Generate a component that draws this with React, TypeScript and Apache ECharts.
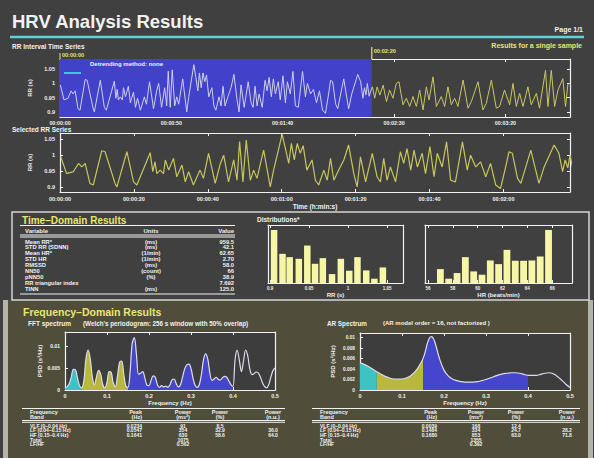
import React, { useEffect, useRef } from "react";
import * as echarts from "echarts";

// ---------- RR interval series (time s, RR s) ----------
const rrTime = [
  0.2, 1.8, 3.6, 5.0, 5.9, 6.8, 8.1, 9.0, 11.3, 12.2, 14.9, 15.4, 18.1, 19.9, 20.8, 24.4, 25.1, 25.7, 26.2, 27.1,
  28.0, 28.5, 29.4, 30.7, 31.6, 33.0, 33.9, 34.8, 36.1, 37.9, 38.8, 40.2, 42.0, 43.4, 44.3, 45.6, 47.0, 47.9, 48.6, 49.5,
  50.4, 51.5, 52.4, 53.3, 55.1, 56.9, 57.8, 60.1, 61.0, 61.9, 62.6, 63.4, 64.2, 65.0, 65.8, 66.8, 68.2, 69.1, 70.0, 71.4,
  72.3, 73.2, 74.1, 75.4, 76.8, 78.1, 79.5, 80.4, 81.3, 82.7, 84.5, 85.8, 86.7, 87.6, 88.5, 89.4, 90.8, 92.1, 93.0, 93.9,
  94.9, 95.8, 96.7, 98.0, 98.9, 100.1, 101.2, 102.1, 103.4, 104.6, 105.7, 107.0, 108.9, 110.2, 111.1, 112.5, 113.8, 115.2, 116.5, 117.9,
  119.2, 120.6, 121.5, 122.4, 123.8, 124.7, 127.4, 129.6, 131.0, 133.7, 135.0, 136.0, 136.7, 137.4, 138.0, 138.8, 139.6,
  140.3, 141.3, 142.4, 143.6, 145.1, 146.6, 148.0, 149.5, 151.0, 152.2, 154.0, 155.5, 157.0, 158.5, 160.0, 161.5, 163.0, 164.5, 165.7, 167.5,
  169.0, 171.2, 172.7, 174.2, 175.7, 177.2, 178.7, 181.0, 183.2, 184.7, 187.7, 189.9, 191.4, 193.7, 195.9, 197.4, 199.6, 201.9, 203.4, 204.9,
  206.4, 207.9, 210.1, 211.6, 213.9, 215.3, 218.0, 219.1, 220.6, 222.1, 223.6, 225.8, 227.0, 228.1,
];
const rrValue = [
  0.995, 0.942, 0.948, 0.974, 0.963, 0.974, 0.911, 0.906, 1.014, 1.011, 0.911, 0.900, 1.011, 0.916, 0.906, 1.008, 0.948, 0.979, 0.942, 0.953,
  0.942, 0.985, 0.953, 0.990, 0.932, 0.969, 0.916, 0.948, 0.906, 0.953, 0.927, 1.006, 0.911, 0.974, 1.000, 0.916, 0.985, 0.921, 1.043, 0.916,
  1.048, 0.921, 0.953, 0.927, 1.016, 0.900, 0.953, 1.066, 1.021, 0.974, 1.037, 0.985, 1.037, 1.006, 1.030, 0.953, 0.985, 0.921, 0.906, 0.953,
  0.921, 0.990, 0.921, 0.953, 0.985, 1.032, 0.942, 0.900, 0.995, 0.916, 1.006, 0.932, 0.916, 0.990, 0.921, 0.963, 0.916, 1.011, 0.974, 1.021,
  0.953, 1.016, 0.963, 1.006, 0.942, 1.027, 0.932, 1.006, 0.963, 1.042, 0.921, 0.916, 1.042, 0.953, 1.000, 0.963, 0.979, 0.932, 0.974, 0.906,
  0.895, 0.963, 1.011, 1.006, 0.927, 0.911, 1.016, 0.911, 0.963, 1.032, 1.006, 0.948, 0.985, 0.960, 1.000, 0.955, 0.975,
  0.988, 0.948, 0.988, 0.959, 0.994, 0.936, 0.977, 0.948, 1.000, 1.006, 0.925, 0.948, 0.919, 0.954, 0.919, 0.977, 0.907, 0.988, 0.942, 1.023,
  0.919, 0.954, 0.919, 0.988, 0.925, 0.948, 0.919, 1.012, 0.913, 0.936, 1.006, 0.907, 0.930, 1.012, 0.913, 0.919, 0.977, 0.925, 1.000, 0.919,
  0.965, 0.919, 0.988, 0.925, 0.965, 0.913, 1.046, 0.919, 1.046, 0.919, 0.977, 1.017, 0.919, 1.000,
];
const selectionStart = 0;
const selectionEnd = 140;
const overviewXRange = [0, 229];
const overviewYRange = [0.882, 1.086];
const selectedXRange = [0, 138];
const selectedYRange = [0.884, 1.07];
const overviewTimeTicks = [0, 50, 100, 150, 200];
const selectedTimeTicks = [0, 20, 40, 60, 80, 100, 120];
const rrTicks = [0.9, 0.95, 1, 1.05];

// ---------- Distributions ----------
const rrHistCenters = [0.9052, 0.916, 0.9252, 0.9369, 0.9478, 0.9577, 0.9677, 0.9795, 0.9908, 1.0016, 1.0121, 1.0234, 1.0338, 1.0447];
const rrHistCounts = [160, 88, 78, 73, 113, 58, 75, 27, 73, 37, 78, 38, 13, 47];
const hrHistCenters = [57.0, 57.67, 58.34, 59.01, 59.68, 60.35, 61.02, 61.69, 62.36, 63.03, 63.7, 64.37, 65.04, 65.71];
const hrHistCounts = [42, 13, 30, 78, 35, 25, 68, 57, 100, 67, 67, 68, 80, 160];
const rrHistRange = [0.8974, 1.0705];
const hrHistRange = [55.76, 67.6];
const histCountMax = 175;
const rrHistTicks = [0.9, 0.95, 1, 1.05];
const hrHistTicks = [56, 58, 60, 62, 64, 66];

// ---------- Spectra ----------
const fftFreq = [
  0, 0.005, 0.01, 0.015, 0.02, 0.025, 0.03, 0.035, 0.04, 0.045, 0.05, 0.055, 0.06, 0.065, 0.07, 0.075, 0.08, 0.085, 0.09, 0.095,
  0.1, 0.105, 0.11, 0.115, 0.12, 0.125, 0.13, 0.135, 0.14, 0.145, 0.15, 0.155, 0.16, 0.165, 0.17, 0.175, 0.18, 0.185, 0.19, 0.195,
  0.2, 0.205, 0.21, 0.215, 0.22, 0.225, 0.23, 0.235, 0.24, 0.245, 0.25, 0.255, 0.26, 0.265, 0.27, 0.275, 0.28, 0.285, 0.29, 0.295,
  0.3, 0.305, 0.31, 0.315, 0.32, 0.325, 0.33, 0.335, 0.34, 0.345, 0.35, 0.355, 0.36, 0.365, 0.37, 0.375, 0.38, 0.385, 0.39, 0.395,
  0.4, 0.405, 0.41, 0.415, 0.42, 0.425, 0.43, 0.435, 0.44, 0.445, 0.45, 0.455, 0.46, 0.465, 0.47, 0.475, 0.48, 0.485, 0.49, 0.495, 0.5,
];
const fftPsd = [
  0.0005, 0.0007, 0.0014, 0.003, 0.0047, 0.0046, 0.0026, 0.0009, 0.0005, 0.0022, 0.0072, 0.0091, 0.0072, 0.003, 0.0012, 0.003, 0.0045, 0.0036, 0.0012, 0.0005,
  0.0018, 0.0042, 0.004, 0.0016, 0.0008, 0.0032, 0.0063, 0.0066, 0.0035, 0.0009, 0.0006, 0.0042, 0.0106, 0.0119, 0.0082, 0.0036, 0.0038, 0.0042, 0.0028, 0.0011,
  0.001, 0.0022, 0.0032, 0.0029, 0.0012, 0.0006, 0.001, 0.0007, 0.0009, 0.0006, 0.0012, 0.0023, 0.0025, 0.0014, 0.0007, 0.0012, 0.003, 0.0048, 0.0057, 0.0059,
  0.0049, 0.0026, 0.001, 0.0006, 0.0013, 0.0037, 0.007, 0.0082, 0.007, 0.0038, 0.0022, 0.0025, 0.0029, 0.0024, 0.0023, 0.0028, 0.0031, 0.0029, 0.0021, 0.0012,
  0.0008, 0.007, 0.009, 0.0068, 0.0042, 0.0066, 0.0091, 0.0078, 0.0048, 0.0035, 0.0037, 0.0041, 0.0039, 0.003, 0.0017, 0.0008, 0.0005, 0.0012, 0.0029, 0.0044, 0.005,
];
const arFreq = [
  0, 0.01, 0.02, 0.03, 0.04, 0.05, 0.06, 0.07, 0.08, 0.09, 0.1, 0.11, 0.12, 0.13, 0.14, 0.15, 0.155, 0.16, 0.165, 0.17, 0.175, 0.18, 0.19,
  0.2, 0.21, 0.22, 0.23, 0.24, 0.25, 0.26, 0.27, 0.28, 0.29, 0.3, 0.31, 0.32, 0.33, 0.34, 0.35, 0.36, 0.37, 0.38, 0.39,
  0.4, 0.41, 0.42, 0.43, 0.44, 0.45, 0.46, 0.47, 0.48, 0.49, 0.5,
];
const arPsd = [
  0.0052, 0.0049, 0.0045, 0.004, 0.0035, 0.003, 0.0026, 0.0023, 0.0021, 0.0021, 0.0021, 0.0023, 0.0027, 0.0034, 0.0045, 0.006, 0.0072, 0.0088, 0.0099, 0.0102, 0.0098, 0.0087, 0.0058,
  0.0038, 0.0027, 0.0021, 0.0018, 0.0016, 0.0015, 0.0015, 0.0015, 0.0016, 0.0018, 0.002, 0.0023, 0.0026, 0.0029, 0.0031, 0.0032, 0.0033, 0.0033, 0.0032, 0.003,
  0.0028, 0.0028, 0.0028, 0.003, 0.0032, 0.0033, 0.0031, 0.0026, 0.0019, 0.0011, 0.0005,
];
const bandEdges = [0, 0.04, 0.15, 0.4];
const bandColors = ["#3cc4c4", "#b8b83e", "#4646cc"];
const freqRange = [0, 0.5];
const freqTicks = [0, 0.1, 0.2, 0.3, 0.4, 0.5];
const fftPsdRange = [0, 0.0132];
const fftPsdTicks = [0, 0.005, 0.01];
const arPsdRange = [0, 0.0109];
const arPsdTicks = [0, 0.002, 0.004, 0.006, 0.008, 0.01];

// ---------- Tables ----------
const tdVariables = ["Mean RR*", "STD RR (SDNN)", "Mean HR*", "STD HR", "RMSSD", "NN50", "pNN50", "RR triangular index", "TINN"];
const tdUnits = ["(ms)", "(ms)", "(1/min)", "(1/min)", "(ms)", "(count)", "(%)", "", "(ms)"];
const tdValues = ["959.5", "42.1", "62.65", "2.70", "58.0", "66", "38.9", "7.692", "125.0"];
const bandNames = ["VLF (0–0.04 Hz)", "LF (0.04–0.15 Hz)", "HF (0.15–0.4 Hz)", "Total", "LF/HF"];
const fftPeak = ["0.0234", "0.0547", "0.1641", "", ""];
const fftPower = ["91", "354", "630", "1075", "0.562"];
const fftPercent = ["8.5", "32.9", "58.6", "", ""];
const fftNu = ["", "36.0", "64.0", "", ""];
const arPeak = ["0.0039", "0.1484", "0.1680", "", ""];
const arPower = ["168", "334", "853", "1355", "0.392"];
const arPercent = ["12.4", "24.7", "63.0", "", ""];
const arNu = ["", "28.2", "71.8", "", ""];

// ---------- styling helpers ----------
const FONT = "'Liberation Sans', Arial, sans-serif";
const WHITE = "#f2f2f2";
const YELLOW = "#e6e670";

function hms(v: number) {
  const s = Math.round(v);
  const h = Math.floor(s / 3600);
  const m = Math.floor((s % 3600) / 60);
  const ss = s % 60;
  return [h, m, ss].map((n) => String(n).padStart(2, "0")).join(":");
}

function lab(size: number, color = WHITE) {
  return { color, fontSize: size, fontWeight: "bold" as const, fontFamily: FONT };
}

function addCartesian(xAxes: any[], yAxes: any[], g: number, x: any, y: any) {
  const line = { show: true, onZero: false, lineStyle: { color: WHITE, width: 1.2 } };
  const tick = (vals: number[]) => ({
    show: vals.length > 0, inside: true, length: 3, customValues: vals, lineStyle: { color: WHITE, width: 1 },
  });
  xAxes.push({
    type: "value", gridIndex: g, position: "bottom", min: x.range[0], max: x.range[1],
    axisLine: line, axisTick: tick(x.ticks), splitLine: { show: false },
    axisLabel: { show: true, customValues: x.ticks, formatter: x.fmt, margin: x.margin ?? 4, ...lab(x.size ?? 5.5) },
    name: x.name ?? "", nameLocation: "middle", nameGap: x.nameGap ?? 10, nameTextStyle: lab(x.nameSize ?? 6),
  });
  xAxes.push({
    type: "value", gridIndex: g, position: "top", min: x.range[0], max: x.range[1],
    axisLine: line, axisTick: tick(x.topTicks ?? x.ticks), splitLine: { show: false }, axisLabel: { show: false },
  });
  yAxes.push({
    type: "value", gridIndex: g, position: "left", min: y.range[0], max: y.range[1],
    axisLine: line, axisTick: tick(y.ticks), splitLine: { show: false },
    axisLabel: { show: y.ticks.length > 0, customValues: y.ticks, formatter: y.fmt, margin: y.margin ?? 5, ...lab(y.size ?? 5.5) },
    name: y.name ?? "", nameLocation: "middle", nameRotate: 90, nameGap: y.nameGap ?? 20, nameTextStyle: lab(y.nameSize ?? 6),
  });
  yAxes.push({
    type: "value", gridIndex: g, position: "right", min: y.range[0], max: y.range[1],
    axisLine: line, axisTick: tick(y.rightTicks ?? []), splitLine: { show: false }, axisLabel: { show: false },
  });
}

function buildOption() {
  const rrPairs = rrTime.map((t, i) => [t, rrValue[i]]);
  const split = rrTime.findIndex((t) => t > selectionEnd);
  const selPart = rrPairs.slice(0, split + 1);
  const restPart = rrPairs.slice(split);
  const fftPairs = fftFreq.map((f, i) => [f, fftPsd[i]]);
  const arPairs = arFreq.map((f, i) => [f, arPsd[i]]);

  const xAxes: any[] = [];
  const yAxes: any[] = [];
  addCartesian(xAxes, yAxes, 0,
    { range: overviewXRange, ticks: overviewTimeTicks, fmt: hms, size: 5.3, margin: 3 },
    { range: overviewYRange, ticks: rrTicks, rightTicks: rrTicks, name: "RR (s)", nameGap: 22 });
  addCartesian(xAxes, yAxes, 1,
    { range: selectedXRange, ticks: selectedTimeTicks, fmt: hms, size: 5.5, margin: 4, name: "Time (h:min:s)", nameGap: 10, nameSize: 6.5 },
    { range: selectedYRange, ticks: rrTicks, rightTicks: rrTicks, name: "RR (s)", nameGap: 22 });
  addCartesian(xAxes, yAxes, 2,
    { range: rrHistRange, ticks: rrHistTicks, size: 4.5, margin: 3, name: "RR (s)", nameGap: 9, nameSize: 6 },
    { range: [0, histCountMax], ticks: [] });
  addCartesian(xAxes, yAxes, 3,
    { range: hrHistRange, ticks: hrHistTicks, size: 4.5, margin: 3, name: "HR (beats/min)", nameGap: 9, nameSize: 6 },
    { range: [0, histCountMax], ticks: [] });
  addCartesian(xAxes, yAxes, 4,
    { range: freqRange, ticks: freqTicks, size: 5.5, margin: 3, name: "Frequency (Hz)", nameGap: 7, nameSize: 6 },
    { range: fftPsdRange, ticks: fftPsdTicks, size: 5, margin: 5, name: "PSD (s²/Hz)", nameGap: 22, nameSize: 6 });
  addCartesian(xAxes, yAxes, 5,
    { range: freqRange, ticks: freqTicks, size: 5.5, margin: 3, name: "Frequency (Hz)", nameGap: 7, nameSize: 6 },
    { range: arPsdRange, ticks: arPsdTicks, size: 4.8, margin: 5, name: "PSD (s²/Hz)", nameGap: 24, nameSize: 6 });

  const bandSeries = (pairs: number[][], gi: number) =>
    bandColors.map((c, b) => ({
      type: "line", xAxisIndex: 2 * gi, yAxisIndex: 2 * gi, smooth: 0.35, symbol: "none", silent: true,
      data: pairs.filter((p) => p[0] >= bandEdges[b] && p[0] <= bandEdges[b + 1]),
      lineStyle: { width: 0 }, areaStyle: { color: c, opacity: 1 }, z: 2,
    }));

  return {
    animation: false,
    backgroundColor: "#404040",
    grid: [
      { left: 60, top: 59, width: 510, height: 58 },
      { left: 60, top: 133, width: 510, height: 59 },
      { left: 268, top: 225, width: 135, height: 58 },
      { left: 425, top: 225, width: 147, height: 58 },
      { left: 65, top: 332, width: 210, height: 58, show: true, backgroundColor: "#3d3d3d", borderWidth: 0 },
      { left: 360, top: 333, width: 210, height: 57, show: true, backgroundColor: "#3d3d3d", borderWidth: 0 },
    ],
    xAxis: xAxes,
    yAxis: yAxes,
    series: [
      {
        type: "line", name: "RR selected", xAxisIndex: 0, yAxisIndex: 0, data: selPart, symbol: "none",
        lineStyle: { color: "#cfcfe6", width: 1 }, z: 3,
        markArea: {
          silent: true, itemStyle: { color: "#4141ca", opacity: 1 },
          data: [[{ xAxis: selectionStart }, { xAxis: selectionEnd }]],
        },
      },
      {
        type: "line", name: "RR rest", xAxisIndex: 0, yAxisIndex: 0, data: restPart, symbol: "none",
        lineStyle: { color: "#c9c862", width: 1 }, z: 3,
      },
      {
        type: "line", name: "Selected RR", xAxisIndex: 2, yAxisIndex: 2, data: rrPairs, symbol: "none", clip: true,
        lineStyle: { color: "#c6c65c", width: 1.2 },
      },
      {
        type: "bar", xAxisIndex: 4, yAxisIndex: 4, barWidth: 6.5, data: rrHistCenters.map((c, i) => [c, rrHistCounts[i]]),
        itemStyle: { color: "#f6f6a6" },
      },
      {
        type: "bar", xAxisIndex: 6, yAxisIndex: 6, barWidth: 6.8, data: hrHistCenters.map((c, i) => [c, hrHistCounts[i]]),
        itemStyle: { color: "#f6f6a6" },
      },
      ...bandSeries(fftPairs, 4),
      {
        type: "line", xAxisIndex: 8, yAxisIndex: 8, smooth: 0.35, symbol: "none", data: fftPairs,
        lineStyle: { color: "#dcdcee", width: 1.2 }, z: 4,
      },
      ...bandSeries(arPairs, 5),
      {
        type: "line", xAxisIndex: 10, yAxisIndex: 10, smooth: 0.35, symbol: "none", data: arPairs,
        lineStyle: { color: "#dcdcee", width: 1.2 }, z: 4,
      },
    ],
  };
}

function T(x: number, y: number, text: string, size: number, opts: any = {}) {
  return {
    type: "text", x, y, silent: true, z: 20,
    style: {
      text, fill: opts.fill ?? WHITE, fontSize: size, fontWeight: opts.weight ?? "bold", fontFamily: FONT,
      textAlign: opts.align ?? "left", textVerticalAlign: "middle",
    },
  };
}
function L(x1: number, y1: number, x2: number, y2: number, color = WHITE, w = 1) {
  return { type: "line", silent: true, z: 20, shape: { x1, y1, x2, y2 }, style: { stroke: color, lineWidth: w } };
}
function R(x: number, y: number, w: number, h: number, fill: string, stroke?: string, lw = 0) {
  return { type: "rect", silent: true, z: -20, shape: { x, y, width: w, height: h }, style: { fill, stroke, lineWidth: lw } };
}

function buildGraphics(pA: number[], pB: number[]) {
  const els: any[] = [];
  // panels
  els.push(R(8, 300, 580, 158, "#504e3b"));
  els.push(R(3, 300, 5, 158, "#b4b4aa"));
  els.push(R(588, 300, 5, 158, "#b4b4aa"));
  els.push({ type: "rect", silent: true, z: 20, shape: { x: 12, y: 212, width: 577, height: 88 }, style: { fill: "none", stroke: "#d4d4d4", lineWidth: 1.5 } });

  // header
  els.push(T(12, 21, "HRV Analysis Results", 18.5));
  els.push(T(583, 29, "Page 1/1", 7, { align: "right" }));
  els.push(L(10, 37, 584, 37, "#5ed2d4", 2.5));
  els.push(T(12, 46, "RR Interval Time Series", 6.5));
  els.push(T(582, 45, "Results for a single sample", 7, { align: "right", fill: YELLOW }));
  els.push(T(12, 129.5, "Selected RR Series", 6.5));

  // selection markers (positions from the axis scale)
  els.push(L(pA[0], pA[1] - 6, pA[0], pA[1], YELLOW, 1));
  els.push(T(pA[0] + 2, pA[1] - 4, hms(selectionStart), 5.5, { fill: YELLOW }));
  els.push(L(pB[0], pB[1] - 12, pB[0], pB[1], YELLOW, 1.2));
  els.push(T(pB[0] + 2, pB[1] - 8, hms(selectionEnd), 5.5, { fill: YELLOW }));
  // legend
  els.push(L(64, 73, 81, 73, "#38c8e8", 2));
  els.push(T(90, 64, "Detrending method: none", 6));

  // time-domain table
  els.push(T(22, 220, "Time–Domain Results", 10, { fill: YELLOW }));
  els.push(L(20, 225.5, 235, 225.5));
  els.push(T(25, 230.5, "Variable", 6));
  els.push(T(151, 230.5, "Units", 6, { align: "center" }));
  els.push(T(234, 230.5, "Value", 6, { align: "right" }));
  els.push(L(20, 235, 235, 235));
  els.push(L(20, 237, 235, 237));
  tdVariables.forEach((v, i) => {
    const y = 241.5 + 5.9 * i;
    els.push(T(25, y, v, 5.8));
    if (tdUnits[i]) els.push(T(151, y, tdUnits[i], 5.8, { align: "center" }));
    els.push(T(234, y, tdValues[i], 5.8, { align: "right" }));
  });
  els.push(L(20, 294, 235, 294));

  els.push(T(257, 219, "Distributions*", 6.5));

  // frequency domain
  els.push(T(23, 312, "Frequency–Domain Results", 10.5, { fill: YELLOW }));
  els.push(T(28, 323, "FFT spectrum", 6.5));
  els.push(T(83, 323, "(Welch's periodogram: 256 s window with 50% overlap)", 6.3));
  els.push(T(327, 323, "AR Spectrum", 6.3));
  els.push(T(383, 323, "(AR model order = 16, not factorized )", 6));

  const table = (x0: number, x1: number, cols: number[], peak: string[], power: string[], pct: string[], nu: string[]) => {
    els.push(L(x0, 408.5, x1, 408.5));
    els.push(T(x0 + 8, 412, "Frequency", 5.5));
    els.push(T(x0 + 8, 417, "Band", 5.5));
    els.push(T(cols[0], 412, "Peak", 5.5, { align: "right" }));
    els.push(T(cols[0], 417, "(Hz)", 5.5, { align: "right" }));
    els.push(T(cols[1], 412, "Power", 5.5, { align: "center" }));
    els.push(T(cols[1], 417, "(ms²)", 5.5, { align: "center" }));
    els.push(T(cols[2], 412, "Power", 5.5, { align: "center" }));
    els.push(T(cols[2], 417, "(%)", 5.5, { align: "center" }));
    els.push(T(cols[3], 412, "Power", 5.5, { align: "center" }));
    els.push(T(cols[3], 417, "(n.u.)", 5.5, { align: "center" }));
    els.push(L(x0, 420.5, x1, 420.5));
    els.push(L(x0, 422.3, x1, 422.3));
    bandNames.forEach((b, i) => {
      const y = 425.5 + 4.7 * i;
      els.push(T(x0 + 8, y, b, 5));
      if (peak[i]) els.push(T(cols[0], y, peak[i], 5, { align: "right" }));
      if (power[i]) els.push(T(cols[1], y, power[i], 5, { align: "center" }));
      if (pct[i]) els.push(T(cols[2], y, pct[i], 5, { align: "center" }));
      if (nu[i]) els.push(T(cols[3], y, nu[i], 5, { align: "center" }));
    });
  };
  table(22, 285, [142, 183, 220, 273], fftPeak, fftPower, fftPercent, fftNu);
  table(312, 580, [437, 476, 516, 567], arPeak, arPower, arPercent, arNu);
  return els;
}

export default function App() {
  const ref = useRef<HTMLDivElement>(null);
  useEffect(() => {
    const el = ref.current;
    if (!el) return;
    const chart = echarts.init(el, null, { renderer: "svg" });
    chart.setOption(buildOption() as any);
    const pA = chart.convertToPixel({ seriesIndex: 0 }, [selectionStart, overviewYRange[1]]) as number[];
    const pB = chart.convertToPixel({ seriesIndex: 0 }, [selectionEnd, overviewYRange[1]]) as number[];
    chart.setOption({ graphic: { elements: buildGraphics(pA, pB) } } as any);
    return () => chart.dispose();
  }, []);
  return <div ref={ref} style={{ position: "absolute", left: 0, top: 0, width: 594, height: 458 }} />;
}
